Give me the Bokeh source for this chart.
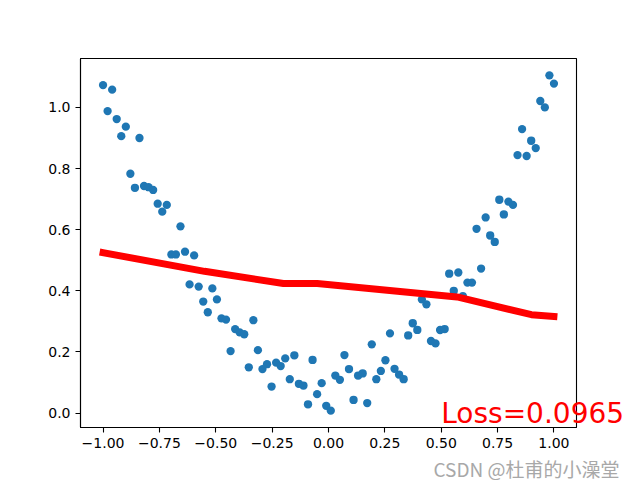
from bokeh.plotting import figure
from bokeh.models import Range1d, FixedTicker, Label
from bokeh.embed import file_html
from bokeh.resources import INLINE

# scatter data (x, y)
x_pts = [-1.0, -0.9798, -0.9596, -0.9394, -0.9192, -0.899, -0.8788, -0.8586, -0.8384, -0.8182,
         -0.798, -0.7778, -0.7576, -0.7374, -0.7172, -0.697, -0.6768, -0.6566, -0.6364, -0.6162,
         -0.596, -0.5758, -0.5556, -0.5354, -0.5152, -0.4949, -0.4747, -0.4545, -0.4343, -0.4141,
         -0.3939, -0.3737, -0.3535, -0.3333, -0.3131, -0.2929, -0.2727, -0.2525, -0.2323, -0.2121,
         -0.1919, -0.1717, -0.1515, -0.1313, -0.1111, -0.0909, -0.0707, -0.0505, -0.0303, -0.0101,
         0.0101, 0.0303, 0.0505, 0.0707, 0.0909, 0.1111, 0.1313, 0.1515, 0.1717, 0.1919,
         0.2121, 0.2323, 0.2525, 0.2727, 0.2929, 0.3131, 0.3333, 0.3535, 0.3737, 0.3939,
         0.4141, 0.4343, 0.4545, 0.4747, 0.4949, 0.5152, 0.5354, 0.5556, 0.5758, 0.596,
         0.6162, 0.6364, 0.6566, 0.6768, 0.697, 0.7172, 0.7374, 0.7576, 0.7778, 0.798,
         0.8182, 0.8384, 0.8586, 0.8788, 0.899, 0.9192, 0.9394, 0.9596, 0.9798, 1.0]
y_pts = [1.073, 0.988, 1.058, 0.962, 0.906, 0.937, 0.783, 0.737, 0.900, 0.743,
         0.739, 0.730, 0.685, 0.659, 0.681, 0.519, 0.519, 0.611, 0.528, 0.421,
         0.516, 0.414, 0.365, 0.330, 0.408, 0.372, 0.310, 0.306, 0.203, 0.275,
         0.264, 0.258, 0.150, 0.304, 0.206, 0.144, 0.160, 0.087, 0.165, 0.154,
         0.179, 0.111, 0.189, 0.096, 0.090, 0.029, 0.174, 0.062, 0.098, 0.024,
         0.008, 0.123, 0.109, 0.190, 0.144, 0.043, 0.123, 0.130, 0.033, 0.225,
         0.111, 0.138, 0.173, 0.261, 0.145, 0.126, 0.111, 0.254, 0.294, 0.272,
         0.372, 0.356, 0.236, 0.228, 0.272, 0.275, 0.456, 0.400, 0.460, 0.383,
         0.427, 0.427, 0.603, 0.473, 0.640, 0.581, 0.560, 0.698, 0.650, 0.692,
         0.681, 0.844, 0.929, 0.841, 0.891, 0.867, 1.021, 1.000, 1.105, 1.078]

# prediction line vertices
line_x = [-1.0, -0.55, -0.2, -0.05, 0.57, 0.9, 1.0]
line_y = [0.525, 0.464, 0.424, 0.424, 0.380, 0.322, 0.316]

x_ticks = [-1.0, -0.75, -0.5, -0.25, 0.0, 0.25, 0.5, 0.75, 1.0]
y_ticks = [0.0, 0.2, 0.4, 0.6, 0.8, 1.0]

loss_text = "Loss=0.0965"
loss_pos = (0.5, 0.0)
watermark = "CSDN @杜甫的小澡堂"

W, H = 640, 480
BL, BR, BT, BB = 80, 64, 58, 53
X0, X1 = -1.1, 1.1
Y0, Y1 = -0.047, 1.16

p = figure(width=W, height=H, output_backend="svg", toolbar_location=None,
           x_range=Range1d(X0, X1), y_range=Range1d(Y0, Y1),
           min_border_left=BL, min_border_right=BR, min_border_top=BT, min_border_bottom=BB)
p.background_fill_color = "white"
p.border_fill_color = "white"
p.outline_line_color = "black"
p.outline_line_width = 1.1
p.xgrid.visible = False
p.ygrid.visible = False

p.scatter(x_pts, y_pts, size=8.3, color="#1f77b4", line_color=None)
p.line(line_x, line_y, line_width=6.9, color="red", line_join="round", line_cap="square")

for ax, ticks, fmt in ((p.xaxis[0], x_ticks, "{:.2f}"), (p.yaxis[0], y_ticks, "{:.1f}")):
    ax.ticker = FixedTicker(ticks=ticks)
    ax.major_label_overrides = {t: fmt.format(t).replace("-", "\u2212") for t in ticks}
    ax.minor_tick_line_color = None
    ax.major_tick_out = 5
    ax.major_tick_in = 0
    ax.major_tick_line_width = 1.1
    ax.axis_line_width = 1.1
    ax.major_label_text_font = "DejaVu Sans"
    ax.major_label_text_font_size = "14px"
    ax.major_label_text_color = "black"
    ax.major_label_standoff = 5

# map data position of the loss text to canvas pixels (text spills outside the frame,
# so it lives in a side panel, which is not clipped to the frame)
fw, fh = W - BL - BR, H - BT - BB
lx = BL + (loss_pos[0] - X0) / (X1 - X0) * fw
ly = BT + (Y1 - loss_pos[1]) / (Y1 - Y0) * fh
p.add_layout(Label(x=lx, y=ly, x_units="canvas", y_units="canvas", text=loss_text,
                   text_color="red", text_font="DejaVu Sans", text_font_size="28px",
                   text_baseline="alphabetic", text_align="left"), "above")
p.add_layout(Label(x=433, y=468, x_units="canvas", y_units="canvas", text=watermark,
                   text_color="#a8a8a8", text_font="Noto Sans CJK SC", text_font_size="19px",
                   text_baseline="alphabetic", text_align="left"), "below")

open("out.html", "w").write(file_html(p, INLINE))
